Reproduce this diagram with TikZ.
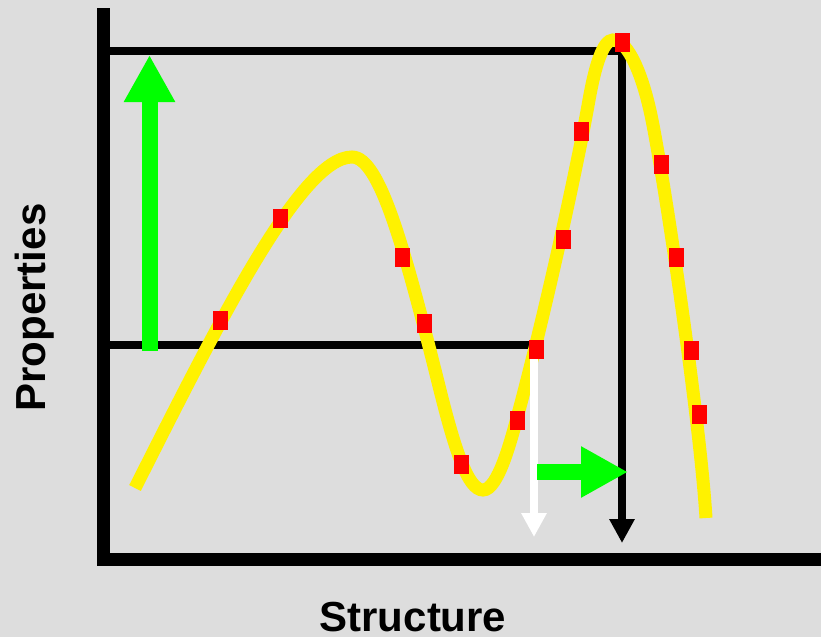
\documentclass[tikz,border=0pt]{standalone}
\usepackage{fontspec}
\setmainfont{Liberation Sans}
\usetikzlibrary{arrows.meta}
\definecolor{bg}{RGB}{221,221,221}
\definecolor{grn}{RGB}{0,255,0}
\begin{document}
\begin{tikzpicture}[x=1pt,y=-1pt,
  sq/.style={fill=red, draw=none, minimum width=15pt, minimum height=19pt, inner sep=0pt},
  axisline/.style={line width=13pt},
  guide/.style={line width=8pt},
  curveline/.style={yellow, line width=13pt},
  bigarrow/.style={grn, line width=16pt, -{Triangle[width=48pt,length=47pt]}},
  thinarrow/.style={line width=8pt, -{Triangle[width=24pt,length=24pt]}},
  lbl/.style={font=\bfseries\fontsize{42}{50}\selectfont, inner sep=0pt}]
\fill[bg] (0,0) rectangle (821,637);
\useasboundingbox (0,0) rectangle (821,637);
% axes
\coordinate (ytop) at (103.5,8);
\coordinate (ybot) at (103.5,566);
\coordinate (xl) at (97,559.5);
\coordinate (xr) at (821,559.5);
\draw[axisline] (ytop) -- (ybot);
\draw[axisline] (xl) -- (xr);
% guide lines
\coordinate (gtl) at (110,51);
\coordinate (gtr) at (626,51);
\coordinate (gml) at (110,345);
\coordinate (gmr) at (536,345);
\coordinate (vtop) at (622,47);
\coordinate (vbot) at (622,543);
\draw[guide] (gtl) -- (gtr);
\draw[guide] (gml) -- (gmr);
\draw[thinarrow] (vtop) -- (vbot);
% green arrow up
\coordinate (gus) at (149.5,351);
\coordinate (gue) at (149.5,55);
\draw[bigarrow] (gus) -- (gue);
% curve
\draw[curveline] (135,488)
  .. controls (215,330) and (300,157) .. (352,157)
  .. controls (380,157) and (405,250) .. (440,390)
  .. controls (455,450) and (468,490) .. (483,490)
  .. controls (498,490) and (511,440) .. (517,418)
  .. controls (545,314) and (577,168) .. (589,100)
  .. controls (595,66) and (603,40) .. (613,40)
  .. controls (628,40) and (643,75) .. (652,120)
  .. controls (666,190) and (700,420) .. (706,518);
% white arrow and right green arrow
\coordinate (ws) at (534,349);
\coordinate (we) at (534,537);
\draw[thinarrow, white] (ws) -- (we);
\coordinate (grs) at (537,472);
\coordinate (gre) at (628,472);
\draw[bigarrow] (grs) -- (gre);
% red squares
\node[sq] (r1) at (220.5,320.5) {};
\node[sq] (r2) at (280.3,218.3) {};
\node[sq] (r3) at (402,257) {};
\node[sq] (r4) at (424,323) {};
\node[sq] (r5) at (461,464) {};
\node[sq] (r6) at (517.5,420) {};
\node[sq] (r7) at (536.5,349.5) {};
\node[sq] (r8) at (563.5,239.5) {};
\node[sq] (r9) at (581.5,131.5) {};
\node[sq] (r10) at (622.5,42) {};
\node[sq] (r11) at (661.5,164.5) {};
\node[sq] (r12) at (676,257) {};
\node[sq] (r13) at (691.5,350) {};
\node[sq] (r14) at (699,414) {};
% labels
\node[lbl, rotate=90, anchor=base] (ylab) at (45,307.5) {Properties};
\node[lbl, anchor=base] (xlab) at (413,631) {Structure};
\end{tikzpicture}
\end{document}
